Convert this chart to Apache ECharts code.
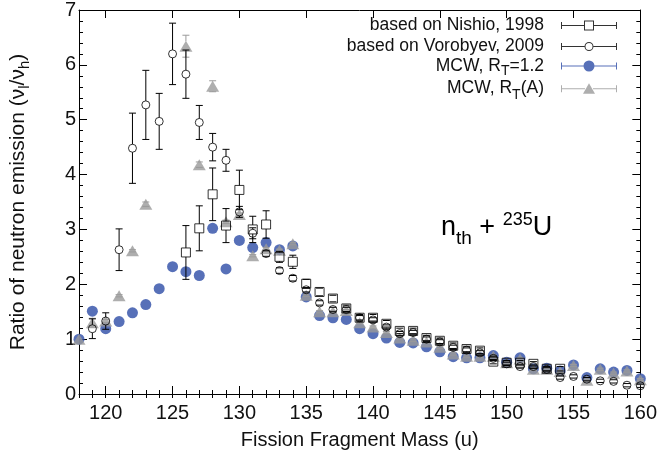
<!DOCTYPE html>
<html>
<head>
<meta charset="utf-8">
<script src="https://cdn.jsdelivr.net/npm/echarts@6/dist/echarts.min.js"></script>
<style>
  html, body { margin: 0; padding: 0; background: #fff; }
  #chart { width: 660px; height: 461px; }
</style>
</head>
<body>
<div id="chart"></div>
<script>
// based on Nishio, 1998
const nishioMass = [126, 127, 128, 129, 130, 131, 132, 133, 134, 135, 136, 137, 138, 139, 140,
  141, 142, 143, 144, 145, 146, 147, 148, 149, 150, 151, 152, 153, 154]
const nishioVal = [2.58, 3.02, 3.64, 3.07, 3.72, 3.00, 3.09, 2.50, 2.41, 2.01, 1.86, 1.74, 1.56, 1.39, 1.39,
  1.28, 1.15, 1.15, 1.02, 0.97, 0.88, 0.82, 0.79, 0.59, 0.57, 0.57, 0.55, 0.46, 0.46]
const nishioErr = [0.49, 0.41, 0.48, 0.31, 0.36, 0.24, 0.25, 0.10, 0.12, 0.08, 0.07, 0.06, 0.06, 0.06, 0.06,
  0.06, 0.05, 0.05, 0.05, 0.05, 0.05, 0.05, 0.05, 0.04, 0.04, 0.04, 0.04, 0.04, 0.04]

// based on Vorobyev, 2009
const vorobMass = [119, 120, 121, 122, 123, 124, 125, 126, 127, 128, 129, 130, 131, 132, 133, 134,
  135, 136, 137, 138, 139, 140, 141, 142, 143, 144, 145, 146, 147, 148, 149, 150, 151, 152, 153,
  154, 155, 156, 157, 158, 159, 160]
const vorobVal = [1.19, 1.33, 2.63, 4.48, 5.27, 4.97, 6.20, 5.83, 4.95, 4.50, 4.26, 3.32, 2.93, 2.56, 2.25, 2.11,
  1.90, 1.66, 1.54, 1.54, 1.39, 1.35, 1.22, 1.10, 1.12, 1.00, 0.95, 0.85, 0.80, 0.75, 0.65, 0.55, 0.50, 0.50, 0.45,
  0.30, 0.32, 0.27, 0.24, 0.23, 0.16, 0.15]
const vorobErr = [0.18, 0.15, 0.38, 0.64, 0.63, 0.51, 0.56, 0.44, 0.31, 0.25, 0.20, 0.10, 0.10, 0.05, 0.05, 0.05,
  0.04, 0.04, 0.04, 0.04, 0.04, 0.04, 0.04, 0.04, 0.04, 0.04, 0.04, 0.04, 0.04, 0.04, 0.04, 0.03, 0.03, 0.03, 0.03,
  0.03, 0.03, 0.03, 0.03, 0.03, 0.03, 0.03]

// MCW, RT = 1.2
const mcwMass = [118, 119, 120, 121, 122, 123, 124, 125, 126, 127, 128, 129, 130, 131, 132, 133, 134,
  135, 136, 137, 138, 139, 140, 141, 142, 143, 144, 145, 146, 147, 148, 149, 150, 151, 152, 153,
  154, 155, 156, 157, 158, 159, 160]
const mcwVal = [1.00, 1.51, 1.19, 1.32, 1.48, 1.63, 1.92, 2.32, 2.23, 2.16, 3.02, 2.28, 2.80, 2.67, 2.76, 2.63, 2.70,
  1.77, 1.43, 1.39, 1.36, 1.19, 1.10, 1.02, 0.94, 0.93, 0.86, 0.77, 0.68, 0.66, 0.66, 0.70, 0.58, 0.66, 0.46, 0.47,
  0.42, 0.53, 0.30, 0.46, 0.40, 0.43, 0.28]

// MCW, RT(A)
const mcwAMass = mcwMass
const mcwAVal = [1.00, 1.30, 1.33, 1.79, 2.61, 3.46, null, null, 6.34, 4.18, 5.61, 3.14, 3.27, 2.52, 2.65, 2.62, 2.74,
  1.80, 1.50, 1.50, 1.52, 1.30, 1.22, 1.12, 1.02, 0.98, 0.95, 0.85, 0.73, 0.69, 0.69, 0.69, 0.57, 0.64, 0.45, 0.45,
  0.41, 0.52, 0.25, 0.45, 0.38, 0.42, 0.26]
const mcwAErr = [0, 0.08, 0.03, 0.02, 0.02, 0.04, 0, 0, 0.20, 0.05, 0.10, 0.03, 0.03, 0.02, 0.02, 0.02, 0.02,
  0.02, 0.02, 0.02, 0.02, 0.02, 0.02, 0.02, 0.02, 0.02, 0.02, 0.02, 0.02, 0.02, 0.02, 0.02, 0.02, 0.02, 0.02, 0.02,
  0.02, 0.02, 0.02, 0.02, 0.02, 0.02, 0.02]

const xMajor = [120, 125, 130, 135, 140, 145, 150, 155, 160]

const font = 'Liberation Sans, Arial, Helvetica, sans-serif'
const blue = '#2d4ca6'
const gray = '#9a9a9a'

function pts(mass, val) {
  return mass.map((m, i) => [m, val[i]]).filter(p => p[1] !== null)
}
function errPts(mass, val, err) {
  return mass.map((m, i) => [m, val[i], err[i]]).filter(p => p[1] !== null && p[2] > 0)
}

// error bar drawn in two pieces so it stops at the marker edge
function errRender(r, color) {
  return function (params, api) {
    const x = api.value(0)
    const y = api.value(1)
    const e = api.value(2)
    const c = api.coord([x, y])
    const hi = api.coord([x, y + e])
    const lo = api.coord([x, y - e])
    const style = { stroke: color, lineWidth: 1 }
    const cap = 3.5
    const children = []
    if (c[1] - r > hi[1]) {
      children.push({ type: 'line', shape: { x1: c[0], y1: hi[1], x2: c[0], y2: c[1] - r }, style })
    }
    if (lo[1] > c[1] + r) {
      children.push({ type: 'line', shape: { x1: c[0], y1: c[1] + r, x2: c[0], y2: lo[1] }, style })
    }
    children.push({ type: 'line', shape: { x1: c[0] - cap, y1: hi[1], x2: c[0] + cap, y2: hi[1] }, style })
    children.push({ type: 'line', shape: { x1: c[0] - cap, y1: lo[1], x2: c[0] + cap, y2: lo[1] }, style })
    return { type: 'group', children }
  }
}

const names = ['based on Nishio, 1998', 'based on Vorobyev, 2009', 'MCW, RT=1.2', 'MCW, RT(A)']
const legendText = {
  'based on Nishio, 1998': 'based on Nishio, 1998',
  'based on Vorobyev, 2009': 'based on Vorobyev, 2009',
  'MCW, RT=1.2': 'MCW, R{sub|T}=1.2',
  'MCW, RT(A)': 'MCW, R{sub|T}(A)'
}

// legend icons: error bar with caps and the marker in the middle
const capL = 'M0 2.5 H1 V9.5 H0 Z '
const capR = 'M55 2.5 H56 V9.5 H55 Z '
const iconSquare = 'path://' + capL + 'M1 5.5 H23 V6.5 H1 Z M23 1 H33 V11 H23 Z M24 2 V10 H32 V2 Z M33 5.5 H55 V6.5 H33 Z ' + capR
const iconCircle = 'path://' + capL + 'M1 5.5 H23.5 V6.5 H1 Z M32.5 6 A4.5 4.5 0 1 1 23.5 6 A4.5 4.5 0 1 1 32.5 6 Z M31.5 6 A3.5 3.5 0 1 0 24.5 6 A3.5 3.5 0 1 0 31.5 6 Z M32.5 5.5 H55 V6.5 H32.5 Z ' + capR
const iconDot = 'path://' + capL + 'M1 5.5 H23 V6.5 H1 Z M33.5 6 A5.5 5.5 0 1 1 22.5 6 A5.5 5.5 0 1 1 33.5 6 Z M33 5.5 H55 V6.5 H33 Z ' + capR
const iconTri = 'path://' + capL + 'M1 5.5 H24 V6.5 H1 Z M28 0.5 L34 11 H22 Z M32 5.5 H55 V6.5 H32 Z ' + capR

const subStyle = { fontSize: 14, lineHeight: 6, verticalAlign: 'bottom', padding: [0, 0, -3, 0], color: '#111', fontFamily: font }

const chart = echarts.init(document.getElementById('chart'))

const tickStyle = { color: '#000', width: 1 }
const option = {
  animation: false,
  grid: { left: 78, right: 17, top: 9, bottom: 67 },
  legend: {
    orient: 'vertical',
    right: 43,
    top: 15,
    padding: 0,
    align: 'right',
    itemWidth: 56,
    itemHeight: 12,
    itemGap: 0,
    symbolKeepAspect: true,
    selectedMode: false,
    formatter: name => legendText[name],
    textStyle: {
      fontSize: 17.5,
      lineHeight: 21,
      color: '#111',
      fontFamily: font,
      padding: [0, 12, 0, 0],
      rich: { sub: subStyle }
    },
    data: [
      { name: names[0], icon: iconSquare, itemStyle: { color: '#000', borderWidth: 0 } },
      { name: names[1], icon: iconCircle, itemStyle: { color: '#000', borderWidth: 0 } },
      {
        name: names[2], icon: iconDot, itemStyle: { color: blue, borderWidth: 0 },
        textStyle: { fontSize: 17.5, lineHeight: 18, color: '#111', fontFamily: font, padding: [0, 12, 0, 0], rich: { sub: subStyle } }
      },
      { name: names[3], icon: iconTri, itemStyle: { color: gray, borderWidth: 0 } }
    ]
  },
  graphic: [{
    type: 'text',
    x: 441,
    y: 228,
    style: {
      text: '{a|n}{b|th}{a| + }{c|235}{a|U}',
      verticalAlign: 'middle',
      rich: {
        a: { fontSize: 27, lineHeight: 26, fontFamily: font, color: '#111' },
        b: { fontSize: 19, lineHeight: 4, verticalAlign: 'top', padding: [14, 0, 0, 0], fontFamily: font, color: '#111' },
        c: { fontSize: 18, lineHeight: 4, verticalAlign: 'top', padding: [-4, 0, 0, 0], fontFamily: font, color: '#111' }
      }
    }
  }],
  xAxis: [
    {
      type: 'value', min: 118, max: 160, position: 'bottom',
      axisLine: { show: true, onZero: false, lineStyle: tickStyle },
      axisTick: { show: true, inside: true, length: 8, customValues: xMajor, lineStyle: tickStyle },
      axisLabel: { customValues: xMajor, fontSize: 20, color: '#111', margin: 9, fontFamily: font },
      splitLine: { show: false },
      name: 'Fission Fragment Mass (u)',
      nameLocation: 'middle',
      nameGap: 36,
      nameTextStyle: { fontSize: 20, color: '#111', fontFamily: font }
    },
    {
      type: 'value', min: 118, max: 160, interval: 1, position: 'bottom',
      axisLine: { show: false },
      axisTick: { show: true, inside: true, length: 4, lineStyle: tickStyle },
      axisLabel: { show: false },
      splitLine: { show: false }
    },
    {
      type: 'value', min: 118, max: 160, position: 'top',
      axisLine: { show: true, onZero: false, lineStyle: tickStyle },
      axisTick: { show: true, inside: true, length: 8, customValues: xMajor, lineStyle: tickStyle },
      axisLabel: { show: false },
      splitLine: { show: false }
    },
    {
      type: 'value', min: 118, max: 160, interval: 1, position: 'top',
      axisLine: { show: false },
      axisTick: { show: true, inside: true, length: 4, lineStyle: tickStyle },
      axisLabel: { show: false },
      splitLine: { show: false }
    }
  ],
  yAxis: [
    {
      type: 'value', min: 0, max: 7, interval: 1, position: 'left',
      axisLine: { show: true, onZero: false, lineStyle: tickStyle },
      axisTick: { show: true, inside: true, length: 8, lineStyle: tickStyle },
      minorTick: { show: true, splitNumber: 5, length: 4, lineStyle: tickStyle },
      axisLabel: { fontSize: 20, color: '#111', margin: 3, fontFamily: font },
      splitLine: { show: false },
      name: 'Ratio of neutron emission (ν{sub|l}/ν{sub|h})',
      nameLocation: 'middle',
      nameGap: 50,
      nameTextStyle: {
        fontSize: 21, color: '#111', fontFamily: font,
        rich: { sub: { fontSize: 15, lineHeight: 6, verticalAlign: 'top', padding: [9, 0, 0, 0], color: '#111', fontFamily: font } }
      }
    },
    {
      type: 'value', min: 0, max: 7, interval: 1, position: 'right',
      axisLine: { show: true, onZero: false, lineStyle: tickStyle },
      axisTick: { show: true, inside: true, length: 8, lineStyle: tickStyle },
      minorTick: { show: true, splitNumber: 5, length: 4, lineStyle: tickStyle },
      axisLabel: { show: false },
      splitLine: { show: false }
    }
  ],
  series: [
    {
      name: names[2], type: 'scatter', z: 2,
      symbol: 'circle', symbolSize: 11,
      itemStyle: { color: blue },
      data: pts(mcwMass, mcwVal)
    },
    {
      name: names[3], type: 'scatter', z: 3,
      symbol: 'triangle', symbolSize: [13, 11],
      itemStyle: { color: gray },
      data: pts(mcwAMass, mcwAVal)
    },
    {
      name: 'errA', type: 'custom', z: 3,
      renderItem: errRender(5, gray),
      encode: { x: 0, y: 1 },
      data: errPts(mcwAMass, mcwAVal, mcwAErr)
    },
    {
      name: names[0], type: 'scatter', z: 4,
      symbol: 'rect', symbolSize: 9,
      itemStyle: { color: 'rgba(0,0,0,0)', borderColor: '#000', borderWidth: 1 },
      data: pts(nishioMass, nishioVal)
    },
    {
      name: 'errNishio', type: 'custom', z: 4,
      renderItem: errRender(4.5, '#000'),
      encode: { x: 0, y: 1 },
      data: errPts(nishioMass, nishioVal, nishioErr)
    },
    {
      name: names[1], type: 'scatter', z: 4,
      symbol: 'circle', symbolSize: 8,
      itemStyle: { color: 'rgba(0,0,0,0)', borderColor: '#000', borderWidth: 1 },
      data: pts(vorobMass, vorobVal)
    },
    {
      name: 'errVorob', type: 'custom', z: 4,
      renderItem: errRender(4, '#000'),
      encode: { x: 0, y: 1 },
      data: errPts(vorobMass, vorobVal, vorobErr)
    }
  ]
}

chart.setOption(option)
</script>
</body>
</html>
